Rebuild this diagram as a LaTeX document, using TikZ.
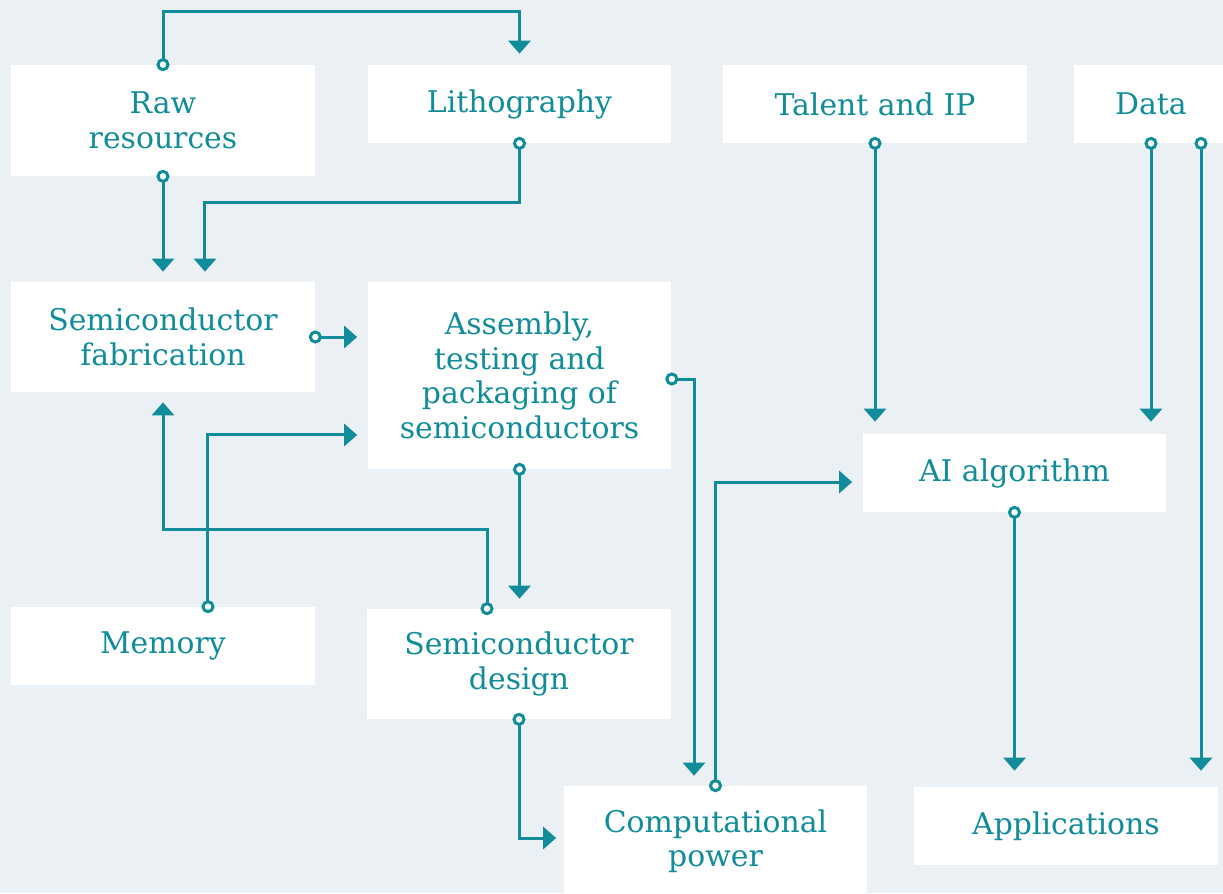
\documentclass[tikz,border=0pt]{standalone}
\usepackage{fontspec}
\setmainfont{DejaVu Serif}
\usepackage{tikz}
\usetikzlibrary{arrows.meta,positioning,calc}

\definecolor{teal}{RGB}{16,140,155}
\definecolor{paper}{RGB}{235,240,244}

\tikzset{
  box/.style={fill=white, text=teal, align=center, inner sep=0pt,
    minimum width=6.08cm, font=\fontsize{17}{19.6}\selectfont},
  link/.style={draw=teal, line width=0.06cm,
    {Circle[open, fill=white, length=0.26cm]}-{Triangle[width=0.44cm, length=0.26cm]},
    shorten <=-0.13cm, shorten >=0.2cm},
}

\begin{document}
\begin{tikzpicture}[x=0.02cm, y=-0.02cm]
        \fill[paper] (0,0) rectangle (1223,893);
        \useasboundingbox (0,0) rectangle (1223,893);

        % supply chain boxes
        \node[box, minimum height=2.22cm] (raw) at (163,120.5) {Raw\\resources};
        \node[box, minimum height=1.56cm] (litho) at (519.5,104) {Lithography};
        \node[box, minimum height=1.56cm] (talent) at (875,104) {Talent and IP};
        \node[box, minimum height=1.56cm, minimum width=3.08cm] (data) at (1151,104) {Data};
        \node[box, minimum height=2.2cm] (fab) at (163,337) {Semiconductor\\fabrication};
        \node[box, minimum height=3.74cm] (asm) at (519.5,375.5) {Assembly,\\testing and\\packaging of\\semiconductors};
        \node[box, minimum height=1.56cm] (ai) at (1014.5,473) {AI algorithm};
        \node[box, minimum height=1.56cm] (mem) at (163,646) {Memory};
        \node[box, minimum height=2.2cm] (design) at (519,664) {Semiconductor\\design};
        \node[box, minimum height=2.22cm] (comp) at (715.5,841.5) {Computational\\power};
        \node[box, minimum height=1.56cm] (apps) at (1066,826) {Applications};

        % links
        \draw[link, shorten >=0.22cm] (raw.north) -- ++(0,-53) -| (litho.north);
        \draw[link] (raw.south) -- (fab.north);
        \draw[link] (litho.south) -- ++(0,59) -| ([xshift=0.84cm]fab.north);
        \draw[link] (fab.east) -- (fab.east -| asm.west);
        \draw[link] ([xshift=0.9cm]mem.north) |- ([yshift=-1.19cm]asm.west);
        \draw[link] ([xshift=-0.64cm]design.north) -- ++(0,-79) -| (fab.south);
        \draw[link] (asm.south) -- (asm.south |- design.north);
        \draw[link] ([yshift=-0.07cm]asm.east) -| ([xshift=-0.43cm]comp.north);
        \draw[link] (comp.north) |- ([yshift=-0.18cm]ai.west);
        \draw[link, shorten >=0.24cm] (talent.south) -- (talent.south |- ai.north);
        \draw[link, shorten >=0.24cm] (data.south) -- (data.south |- ai.north);
        \draw[link, shorten >=0.32cm] ([xshift=1cm]data.south) -- ([xshift=1cm]data.south |- apps.north);
        \draw[link, shorten >=0.32cm] (ai.south) -- (ai.south |- apps.north);
        \draw[link, shorten >=0.14cm] (design.south) |- ([yshift=0.07cm]comp.west);

      \end{tikzpicture}
\end{document}
